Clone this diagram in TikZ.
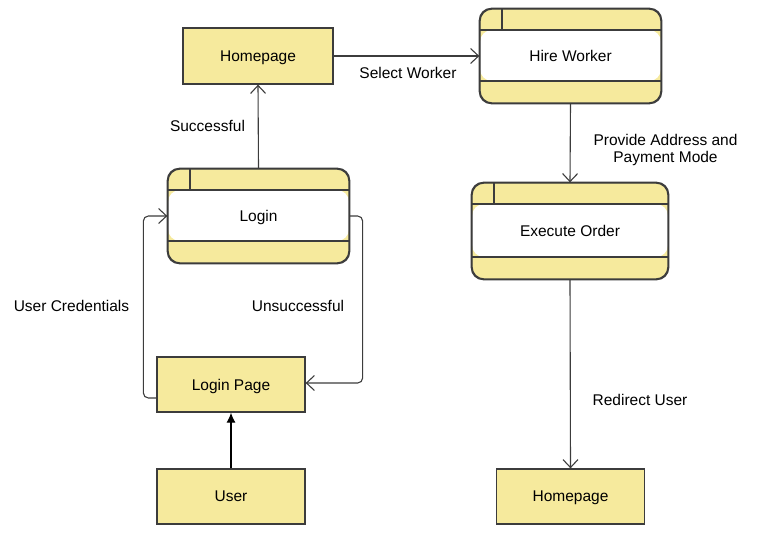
\documentclass[tikz,border=0pt]{standalone}
\usepackage{fontspec}
\setmainfont{Liberation Sans}
\usetikzlibrary{arrows.meta}
\definecolor{boxyellow}{RGB}{246,234,157}
\definecolor{linegray}{RGB}{60,60,60}
\tikzstyle{entity}=[draw=linegray, fill=boxyellow, inner sep=0, minimum width=148pt, minimum height=55pt]
\tikzstyle{process}=[draw=linegray, fill=boxyellow, inner sep=0, rounded corners=12pt,
                     % white middle band, with the small cell in the top band
                     path picture={
                       \fill[white] ([yshift=-21pt]path picture bounding box.north west)
                                    rectangle ([yshift=22pt]path picture bounding box.south east);
                       \draw[linegray] ([yshift=-21pt]path picture bounding box.north west)
                                    -- ([yshift=-21pt]path picture bounding box.north east);
                       \draw[linegray] ([yshift=22pt]path picture bounding box.south west)
                                    -- ([yshift=22pt]path picture bounding box.south east);
                       \draw[linegray] ([xshift=22pt]path picture bounding box.north west)
                                    -- ([xshift=22pt,yshift=-21pt]path picture bounding box.north west);
                     }]
\tikzstyle{outline}=[draw=linegray, rounded corners=12pt]
\tikzstyle{flow}=[draw=linegray, line width=1.1pt, -{Straight Barb[length=8pt,width=15pt]}]
\tikzstyle{note}=[inner sep=0, align=center]

\begin{document}
\begin{tikzpicture}[x=1pt, y=-1pt, line width=1.3pt,
                    every node/.style={font=\fontsize{15.5}{17}\selectfont, text depth=0pt}]
    \useasboundingbox (0,0) rectangle (768,552);
    % boxes
    \node[entity, minimum width=150pt, minimum height=56pt] (home1) at (258,56) {Homepage};
    \node[process, minimum width=181pt, minimum height=94pt] (hire)  at (570.5,56) {Hire Worker};
    \node[process, minimum width=181pt, minimum height=94pt] (login) at (258.5,216) {Login};
    \node[process, minimum width=196pt, minimum height=96pt] (exec)  at (570,231) {Execute Order};
    \node[entity] (loginpage) at (231,384.5) {Login Page};
    \node[entity] (user)      at (231,496.5) {User};
    \node[entity] (home2)     at (570.5,496.5) {Homepage};
    % outlines of the process boxes once more, over the white band
    \foreach \p in {hire, login, exec}
        \draw[outline] (\p.north west) rectangle (\p.south east);
    % labels
    \node[note] (lselect)  at (408,73)    {Select Worker};
    \node[note] (lsucc)    at (207.5,126) {Successful};
    \node[note] (lprovide) at (665.5,148) {Provide Address and\\Payment Mode};
    \node[note] (lcred)    at (71.5,306)  {User Credentials};
    \node[note] (lunsucc)  at (298,306)   {Unsuccessful};
    \node[note] (lredir)   at (640,400)   {Redirect User};
    % connectors
    \draw[flow] (home1.east) -- (hire.west);
    \draw[flow] (login.north) -- (home1.south);
    \draw[flow] (hire.south) -- (exec.north);
    \draw[flow] (exec.south) -- (home2.north);
    \draw[flow, rounded corners=5pt] ([yshift=-13.5pt]loginpage.west) -- ++(-13,0) |- (login.west);
    \draw[flow, rounded corners=5pt] (login.east) -- ++(13,0) |- ([yshift=1.5pt]loginpage.east);
    \draw[draw=black, line width=1.1pt, -{Latex[length=10pt,width=9pt]}] (user.north) -- (loginpage.south);
\end{tikzpicture}
\end{document}
